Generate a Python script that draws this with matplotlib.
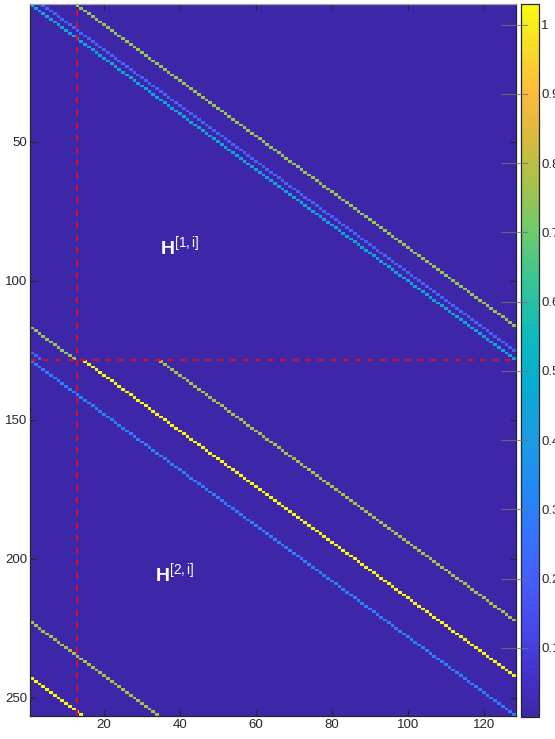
import numpy as np
import matplotlib
matplotlib.use("Agg")
import matplotlib.pyplot as plt
from matplotlib.colors import LinearSegmentedColormap
from matplotlib.lines import Line2D
import matplotlib.transforms as mtransforms

plt.rcParams['font.family'] = ['Liberation Sans', 'DejaVu Sans']
plt.rcParams['mathtext.fontset'] = 'custom'
plt.rcParams['mathtext.rm'] = 'Liberation Sans'
plt.rcParams['mathtext.it'] = 'Liberation Sans'
plt.rcParams['mathtext.bf'] = 'Liberation Sans:bold'

# Matrix layout: two stacked 128x128 circulant blocks
n_cols = 128
block_rows = 128

# Column shifts of each wrapped diagonal and its entry value
upper_shifts = [0, 3, 12]
upper_values = [0.45, 0.22, 0.75]
lower_shifts = [0, 14, 34]
lower_values = [0.30, 1.03, 0.77]

# Block boundaries
split_col = 13
split_row = 128.5

x_ticks = [20, 40, 60, 80, 100, 120]
y_ticks = [50, 100, 150, 200, 250]
cbar_ticks = [0.1, 0.2, 0.3, 0.4, 0.5, 0.6, 0.7, 0.8, 0.9, 1.0]

block_labels = [r'$\mathbf{H}^{[1,i]}$', r'$\mathbf{H}^{[2,i]}$']
label_pos = [(34.7, 90.4), (33.4, 208.0)]

# MATLAB parula (R2014a) approximation
parula_anchors = [
    (0.000, (0.2422, 0.1504, 0.6603)),
    (0.060, (0.2650, 0.1980, 0.8000)),
    (0.125, (0.2800, 0.2830, 0.9250)),
    (0.200, (0.2700, 0.3800, 0.9850)),
    (0.260, (0.2000, 0.4600, 0.9950)),
    (0.330, (0.1300, 0.5500, 0.9500)),
    (0.400, (0.1000, 0.6200, 0.8900)),
    (0.470, (0.0300, 0.6800, 0.8200)),
    (0.540, (0.0600, 0.7300, 0.7300)),
    (0.610, (0.2200, 0.7700, 0.6000)),
    (0.680, (0.4300, 0.7900, 0.4300)),
    (0.750, (0.6600, 0.7600, 0.2900)),
    (0.820, (0.8600, 0.7300, 0.2400)),
    (0.880, (0.9900, 0.7400, 0.2400)),
    (0.940, (0.9700, 0.8600, 0.1600)),
    (1.000, (0.9763, 0.9831, 0.0538)),
]
parula = LinearSegmentedColormap.from_list('parula', parula_anchors, N=256)

H = np.zeros((2 * block_rows, n_cols))
r = np.arange(block_rows)
for s, v in zip(upper_shifts, upper_values):
    H[r, (r + s) % n_cols] = v
for s, v in zip(lower_shifts, lower_values):
    H[block_rows + r, (r + s) % n_cols] = v

fig = plt.figure(figsize=(5.55, 7.39), dpi=100)
W, Hpx = 555.0, 739.0
ax = fig.add_axes([30 / W, 1 - 716 / Hpx, 486 / W, 712 / Hpx])
cax = fig.add_axes([521 / W, 1 - 717 / Hpx, 18 / W, 713 / Hpx])

im = ax.imshow(H, cmap=parula, vmin=H.min(), vmax=H.max(), aspect='auto',
               interpolation='nearest',
               extent=(0.5, n_cols + 0.5, 2 * block_rows + 0.5, 0.5))

red = (0.80, 0.06, 0.20)
ax.axvline(split_col, color=red, lw=1.5, dashes=(3, 3))
ax.axhline(split_row, color=red, lw=1.5, dashes=(3, 3))

for txt, (tx, ty) in zip(block_labels, label_pos):
    ax.text(tx, ty, txt, color='white', fontsize=14, ha='left', va='baseline')

tick_col = (0.15, 0.15, 0.15)
ax.set_xticks(x_ticks)
ax.set_yticks(y_ticks)
ax.tick_params(direction='in', length=4.5, width=0.8, color=tick_col,
               labelsize=9.5, labelcolor=tick_col, top=True, right=True, pad=2)
for sp in ax.spines.values():
    sp.set_color(tick_col)
    sp.set_linewidth(0.9)
ax.spines['top'].set_color((0.65, 0.65, 0.65))

cb = fig.colorbar(im, cax=cax)
cb.set_ticks(cbar_ticks)
cb.set_ticklabels(['%g' % t for t in cbar_ticks])
cax.tick_params(length=0, labelsize=9.5, labelcolor=tick_col, pad=1.5)
cb.outline.set_edgecolor(tick_col)
cb.outline.set_linewidth(0.9)

# colorbar tick marks reaching left across the gap
trans = mtransforms.blended_transform_factory(fig.transFigure, cax.transData)
for t in cbar_ticks:
    fig.add_artist(Line2D([501 / W, 527 / W], [t, t], transform=trans,
                          color=(0.45, 0.45, 0.45), lw=0.8, alpha=0.8))

fig.savefig('out.png', dpi=100)
